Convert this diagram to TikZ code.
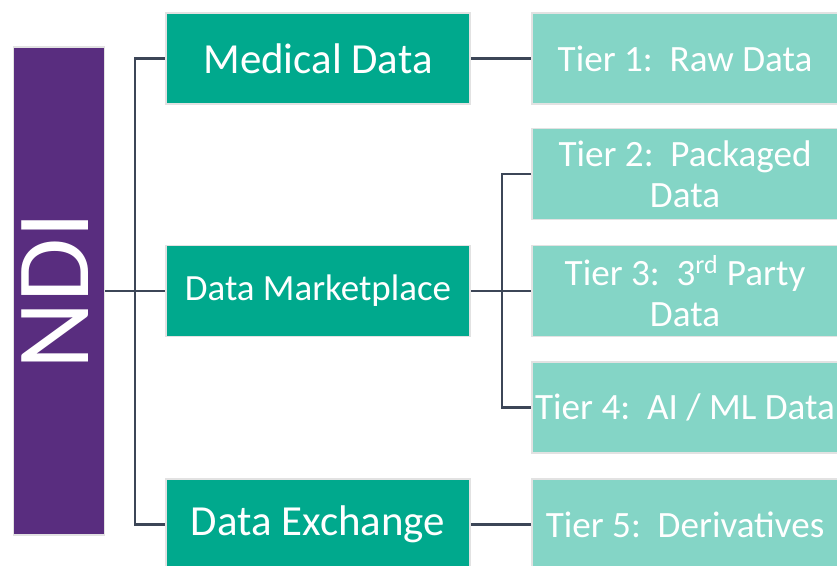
\documentclass[tikz,border=0pt]{standalone}
\usepackage{fontspec}
\setmainfont{Carlito}
\usepackage{tikz}
\definecolor{ndipurple}{RGB}{89, 45, 127}
\definecolor{ndigreen}{RGB}{0, 169, 141}
\definecolor{nditeal}{RGB}{132, 213, 198}
\definecolor{ndiline}{RGB}{60, 70, 87}
\definecolor{boxedge}{RGB}{226, 226, 226}

\begin{document}
\begin{tikzpicture}[x=0.025cm, y=-0.025cm,
    edgebox/.style={draw=boxedge, line width=1.4pt, text=white, inner sep=0pt, align=center},
    topic/.style={edgebox, fill=ndigreen, minimum width=7.6cm, minimum height=2.275cm},
    tier/.style={edgebox, fill=nditeal, minimum width=7.65cm, minimum height=2.275cm,
                 font=\fontsize{26.4}{29}\selectfont},
    link/.style={draw=ndiline, line width=1.9pt}]
\useasboundingbox (0,0) rectangle (837,566);

% Root
\node[edgebox, fill=ndipurple, minimum width=2.275cm, minimum height=12.2cm] (ndi) at (59,291) {};
\node[text=white, font=\fontsize{74}{74}\selectfont, inner sep=0pt] (ndilabel) at (55.5,291) {\rotatebox{90}{NDI}};

% Data areas
\node[topic, font=\fontsize{30.5}{33}\selectfont] (medical) at (318,58.5) {Medical Data};
\node[topic, font=\fontsize{26.3}{29}\selectfont] (market) at (318,291) {Data Marketplace};
\node[topic, font=\fontsize{30.5}{33}\selectfont] (exchange) at (318,524.5) {Data Exchange};

% Tiers
\node[tier] (tierone) at (685,58.5) {Tier 1:\ \ Raw Data};
\node[tier] (tiertwo) at (685,174) {Tier 2:\ \ Packaged\\Data};
\node[tier] (tierthree) at (685,291) {Tier 3:\ \ 3\textsuperscript{rd} Party\\Data};
\node[tier] (tierfour) at (685,407.5) {Tier 4:\ \ AI / ML Data};
\node[tier] (tierfive) at (685,524.5) {Tier 5:\ \ Derivatives};

% Connectors
\coordinate (rootsplit) at (135,291);
\coordinate (marketsplit) at (502,291);
\draw[link] (medical.west) -| (rootsplit) |- (exchange.west);
\draw[link] (ndi.east) -- (market.west);
\draw[link] (tiertwo.west) -| (marketsplit) |- (tierfour.west);
\draw[link] (market.east) -- (tierthree.west);
\draw[link] (medical.east) -- (tierone.west);
\draw[link] (exchange.east) -- (tierfive.west);
\end{tikzpicture}
\end{document}
